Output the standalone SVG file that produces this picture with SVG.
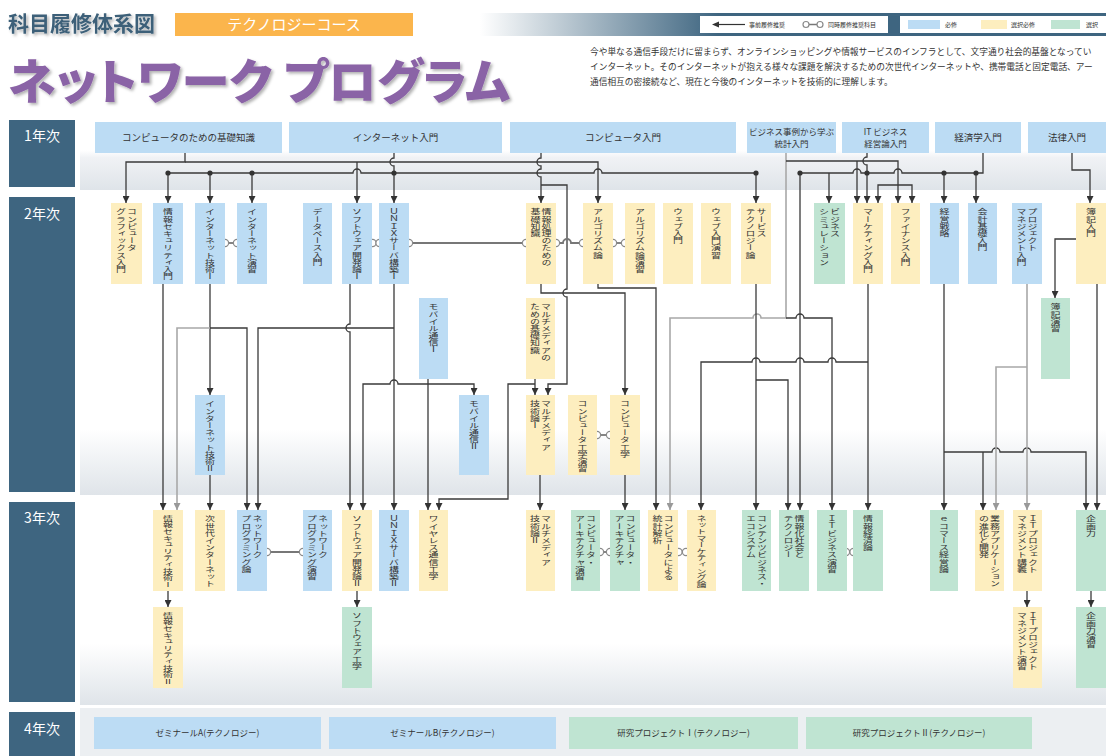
<svg xmlns="http://www.w3.org/2000/svg" width="1106" height="756" viewBox="0 0 1106 756">
<defs>
<style>
.b{fill:#bcdcf4}.y{fill:#fdeebf}.g{fill:#bfe4d2}
.vt{font-family:'Noto Sans CJK JP','Noto Sans CJK SC',sans-serif;font-size:10px;fill:#333;writing-mode:vertical-rl}
.ht{font-family:'Noto Sans CJK JP',sans-serif;font-size:9.5px;fill:#333;text-anchor:middle}
.hs{font-family:'Noto Sans CJK JP',sans-serif;font-size:8.5px;fill:#333;text-anchor:middle}
.yr{fill:#3e6580}
.yt{font-family:'Noto Sans CJK JP',sans-serif;font-size:14px;fill:#fff;text-anchor:middle}
.ln{fill:none;stroke:#3a3a3a;stroke-width:1.3}
.lg{fill:none;stroke:#a8a8a8;stroke-width:1.6}
.a{marker-end:url(#ah)}
.ag{marker-end:url(#ahg)}
.dot{fill:#333}
.cc{fill:#fff;stroke:#8a8a8a;stroke-width:1.2}
.cl{fill:none;stroke:#777;stroke-width:1.8}
.lt{font-family:'Noto Sans CJK JP',sans-serif;font-size:6px;fill:#333}
</style>
<marker id="ah" viewBox="0 0 10 10" refX="10" refY="5" markerWidth="7" markerHeight="7" markerUnits="userSpaceOnUse" orient="auto"><path d="M0,0 L10,5 L0,10 z" fill="#333"/></marker>
<marker id="ahg" viewBox="0 0 10 10" refX="10" refY="5" markerWidth="7" markerHeight="7" markerUnits="userSpaceOnUse" orient="auto"><path d="M0,0 L10,5 L0,10 z" fill="#999"/></marker>
<linearGradient id="hdr" x1="0" y1="0" x2="1" y2="0"><stop offset="0" stop-color="#ffffff"/><stop offset="0.38" stop-color="#3e6580"/><stop offset="1" stop-color="#3e6580"/></linearGradient>
<linearGradient id="band1" x1="0" y1="0" x2="0" y2="1"><stop offset="0" stop-color="#fff"/><stop offset="0.45" stop-color="#fff"/><stop offset="0.55" stop-color="#f0f2f5"/><stop offset="1" stop-color="#dfe4e9"/></linearGradient>
<linearGradient id="band2" x1="0" y1="0" x2="0" y2="1"><stop offset="0" stop-color="#fff"/><stop offset="0.78" stop-color="#fff"/><stop offset="1" stop-color="#dfe4e9"/></linearGradient>
<linearGradient id="band3" x1="0" y1="0" x2="0" y2="1"><stop offset="0" stop-color="#fff"/><stop offset="0.7" stop-color="#fff"/><stop offset="1" stop-color="#dfe4e9"/></linearGradient>
<filter id="sh" x="-5%" y="-20%" width="110%" height="150%"><feDropShadow dx="2" dy="2" stdDeviation="1.5" flood-color="#000" flood-opacity="0.3"/></filter>
</defs>

<rect width="1106" height="756" fill="#fff"/>

<!-- header -->
<g id="header">
<text x="8" y="31" font-family="'Noto Sans CJK JP',sans-serif" font-size="21" font-weight="700" fill="#3d6079" filter="url(#sh)">科目履修体系図</text>
<rect x="175" y="13" width="238" height="23" fill="#fbb54c"/>
<text x="294" y="30" font-family="'Noto Sans CJK JP',sans-serif" font-size="15" fill="#fff" text-anchor="middle">テクノロジーコース</text>
<rect x="480" y="13" width="626" height="23" fill="url(#hdr)"/>
<rect x="700" y="16" width="188" height="17" fill="#fff"/>
<rect x="900" y="16" width="206" height="17" fill="#fff"/>
<line x1="718" y1="24.5" x2="745" y2="24.5" stroke="#333" stroke-width="1.2"/>
<path d="M712,24.5 L719,21.5 L719,27.5 z" fill="#333"/>
<text class="lt" x="749" y="27">事前履修推奨</text>
<line x1="806" y1="24.5" x2="820" y2="24.5" stroke="#777" stroke-width="1.5"/>
<circle class="cc" cx="806" cy="24.5" r="3"/><circle class="cc" cx="820" cy="24.5" r="3"/>
<text class="lt" x="828" y="27">同時履修推奨科目</text>
<rect x="908" y="20" width="32" height="9" class="b"/>
<text class="lt" x="945" y="27">必修</text>
<rect x="981" y="20" width="26" height="9" class="y"/>
<text class="lt" x="1011" y="27">選択必修</text>
<rect x="1051" y="20" width="29" height="9" class="g"/>
<text class="lt" x="1086" y="27">選択</text>
<text x="8" y="99" font-family="'Noto Sans CJK JP',sans-serif" font-size="48" font-weight="900" fill="#8a63a6" filter="url(#sh)" style="font-feature-settings:'palt'" textLength="502" lengthAdjust="spacingAndGlyphs">ネットワーク プログラム</text>
<g font-family="'Noto Sans CJK JP',sans-serif" font-size="8.7" fill="#333">
<text x="590" y="55">今や単なる通信手段だけに留まらず、オンラインショッピングや情報サービスのインフラとして、文字通り社会的基盤となってい</text>
<text x="590" y="70">インターネット。そのインターネットが抱える様々な課題を解決するための次世代インターネットや、携帯電話と固定電話、アー</text>
<text x="590" y="85">通信相互の密接続など、現在と今後のインターネットを技術的に理解します。</text>
</g>
</g>

<!-- bands and year labels -->
<g id="rows">
<rect x="80" y="118" width="1026" height="72" fill="url(#band1)"/>
<rect x="80" y="195" width="1026" height="300" fill="url(#band2)"/>
<rect x="80" y="500" width="1026" height="205" fill="url(#band3)"/>
<rect x="80" y="708" width="1026" height="48" fill="#eceff2"/>
<rect class="yr" x="9" y="120" width="66" height="67"/><text class="yt" x="42" y="141">1年次</text>
<rect class="yr" x="9" y="197" width="66" height="295"/><text class="yt" x="42" y="219">2年次</text>
<rect class="yr" x="9" y="502" width="66" height="200"/><text class="yt" x="42" y="523">3年次</text>
<rect class="yr" x="9" y="712" width="66" height="44"/><text class="yt" x="42" y="734">4年次</text>
</g>

<!-- connectors -->
<g id="connectors">
<path class="ln a" d="M185,153 V162 H126 V203"/>
<path class="ln a" d="M185,162 H598 V203"/>
<path class="ln a" d="M357,162 V203"/>
<path class="ln a" d="M394,153 V158 a4,4 0 0 0 0,8 V203"/>
<path class="ln a" d="M168,173 H353 a4,4 0 0 1 8,0 H594 a4,4 0 0 1 8,0 H756 V203"/>
<path class="ln a" d="M168,173 V203"/>
<path class="ln a" d="M210,173 V203"/>
<path class="ln a" d="M252,173 V203"/>
<path class="ln a" d="M541,153 V158 a4,4 0 0 0 0,8 V169 a4,4 0 0 0 0,8 V203"/>
<path class="ln a" d="M541,185 H567 V289 a4,4 0 0 0 0,8 V384 H548 V395"/>
<path class="lg ag" d="M786,153 V318 H761 a4,4 0 0 0 -8,0 H670 V510"/>
<path class="ln a" d="M786,318 H796 a4,4 0 0 1 8,0 H832 V510"/>
<path class="ln a" d="M786,161 H898 V203"/>
<path class="ln a" d="M857,161 V203"/>
<path class="ln a" d="M867,153 V157 a4,4 0 0 0 0,8 V203"/>
<path class="ln a" d="M983,153 V173 H902 a4,4 0 0 0 -8,0 H861 a4,4 0 0 0 -8,0 H800 V510"/>
<path class="ln a" d="M829,173 V203"/>
<path class="ln a" d="M944,173 V203"/>
<path class="ln a" d="M976,173 V203"/>
<path class="ln a" d="M898,185 H878 V203"/>
<path class="ln a" d="M898,185 H912 V203"/>
<path class="ln a" d="M1072,153 V170 H1090 V203"/>
<path class="ln a" d="M1076,239 H1055 V298"/>
<path class="ln a" d="M756,284 V510"/>
<path class="ln a" d="M756,380 H788 V510"/>
<path class="ln a" d="M598,284 V288 H656 V510"/>
<path class="ln a" d="M868,284 V510"/>
<path class="ln a" d="M868,362 H836 a4,4 0 0 0 -8,0 H804 a4,4 0 0 0 -8,0 H760 a4,4 0 0 0 -8,0 H701 V510"/>
<path class="ln a" d="M944,284 V510"/>
<path class="ln a" d="M944,452 H992 a4,4 0 0 1 8,0 H1023 a4,4 0 0 1 8,0 H1086 V510"/>
<path class="ln a" d="M983,452 V510"/>
<path class="lg ag" d="M1027,284 V510"/>
<path class="lg ag" d="M1027,367 H996 V510"/>
<path class="ln a" d="M1097,284 V510"/>
<path class="ln a" d="M163,284 V510"/>
<path class="ln a" d="M210,284 V395"/>
<path class="lg ag" d="M210,328 H177 V510"/>
<path class="ln a" d="M210,328 H247 V510"/>
<path class="ln a" d="M210,475 V510"/>
<path class="ln a" d="M394,284 V510"/>
<path class="ln a" d="M394,328 H258 V510"/>
<path class="ln a" d="M350,284 V324 a4,4 0 0 0 0,8 V510"/>
<path class="ln a" d="M428,379 V510"/>
<path class="ln a" d="M428,384 H398 a4,4 0 0 0 -8,0 H363 V510"/>
<path class="ln a" d="M428,384 H474 V395"/>
<path class="ln a" d="M535,379 V395"/>
<path class="ln a" d="M535,384 H508 V499 H439 V510"/>
<path class="ln a" d="M540,475 V510"/>
<path class="ln a" d="M541,284 V293 H625 V395"/>
<path class="ln a" d="M625,475 V510"/>
<path class="ln a" d="M168,591 V607"/>
<path class="ln a" d="M357,591 V607"/>
<path class="ln a" d="M1027,591 V607"/>
<path class="ln a" d="M1091,591 V607"/>
<circle class="dot" cx="168" cy="173" r="2.6"/><circle class="dot" cx="210" cy="173" r="2.6"/><circle class="dot" cx="252" cy="173" r="2.6"/><circle class="dot" cx="394" cy="173" r="2.6"/><circle class="dot" cx="756" cy="173" r="2.6"/>
<circle class="dot" cx="800" cy="173" r="2.6"/><circle class="dot" cx="867" cy="173" r="2.6"/><circle class="dot" cx="944" cy="173" r="2.6"/><circle class="dot" cx="976" cy="173" r="2.6"/>
<!-- co-requisite links -->
<path class="cl" d="M225,243 H237"/>
<path class="cl" d="M409,243 H526"/>
<path class="cl" d="M556,243 H563 a4,4 0 0 1 8,0 H583"/>
<path class="cl" d="M613,243 H625"/>
<path class="cl" d="M597,435 H610"/>
<path class="cl" d="M267,552 H303"/>
<path class="cl" d="M600,552 H610"/>
<circle class="cc" cx="225" cy="243" r="3.6"/><circle class="cc" cx="237" cy="243" r="3.6"/>
<circle class="cc" cx="372.5" cy="243" r="3.6"/><circle class="cc" cx="379.5" cy="243" r="3.6"/>
<circle class="cc" cx="409" cy="243" r="3.6"/><circle class="cc" cx="526" cy="243" r="3.6"/>
<circle class="cc" cx="556" cy="243" r="3.6"/><circle class="cc" cx="583" cy="243" r="3.6"/>
<circle class="cc" cx="613" cy="243" r="3.6"/><circle class="cc" cx="625" cy="243" r="3.6"/>
<circle class="cc" cx="597" cy="435" r="3.6"/><circle class="cc" cx="610" cy="435" r="3.6"/>
<circle class="cc" cx="267" cy="552" r="3.6"/><circle class="cc" cx="303" cy="552" r="3.6"/>
<circle class="cc" cx="600" cy="552" r="3.6"/><circle class="cc" cx="610" cy="552" r="3.6"/>
<circle class="cc" cx="678.5" cy="552" r="3.6"/><circle class="cc" cx="686" cy="552" r="3.6"/>
<circle class="cc" cx="846" cy="552" r="3.6"/><circle class="cc" cx="853.5" cy="552" r="3.6"/>
</g>

<!-- year 1 -->
<g id="n-kiso"><rect class="b" x="95" y="122" width="187" height="31"/><text class="ht" x="188.5" y="141">コンピュータのための基礎知識</text></g>
<g id="n-inet0"><rect class="b" x="289" y="122" width="213" height="31"/><text class="ht" x="395.5" y="141">インターネット入門</text></g>
<g id="n-comp0"><rect class="b" x="510" y="122" width="226" height="31"/><text class="ht" x="623" y="141">コンピュータ入門</text></g>
<g id="n-stat0"><rect class="b" x="747" y="122" width="89" height="31"/><text class="hs" x="791.5" y="135">ビジネス事例から学ぶ</text><text class="hs" x="791.5" y="147">統計入門</text></g>
<g id="n-itb0"><rect class="b" x="842" y="122" width="87" height="31"/><text class="hs" x="885.5" y="135">IT ビジネス</text><text class="hs" x="885.5" y="147">経営論入門</text></g>
<g id="n-econ0"><rect class="b" x="935" y="122" width="86" height="31"/><text class="ht" x="978" y="141">経済学入門</text></g>
<g id="n-law0"><rect class="b" x="1028" y="122" width="78" height="31"/><text class="ht" x="1067" y="141">法律入門</text></g>

<!-- year 2 -->
<g id="n-cg"><rect class="y" x="111" y="203" width="31" height="81"/><g transform="translate(126.5,208) scale(1,0.72)"><text class="vt" x="5.5" y="0">コンピュータ</text><text class="vt" x="-5.5" y="0">グラフィックス入門</text></g></g>
<g id="n-sec1"><rect class="b" x="153" y="203" width="30" height="81"/><g transform="translate(168,208) scale(1,0.72)"><text class="vt" x="0" y="0">情報セキュリティ入門</text></g></g>
<g id="n-inet1"><rect class="b" x="195" y="203" width="30" height="81"/><g transform="translate(210,208) scale(1,0.72)"><text class="vt" x="0" y="0">インターネット技術Ⅰ</text></g></g>
<g id="n-inetp"><rect class="b" x="237" y="203" width="30" height="81"/><g transform="translate(252,208) scale(1,0.72)"><text class="vt" x="0" y="0">インターネット演習</text></g></g>
<g id="n-db"><rect class="b" x="303" y="203" width="29" height="81"/><g transform="translate(317.5,208) scale(1,0.72)"><text class="vt" x="0" y="0">データベース入門</text></g></g>
<g id="n-sw1"><rect class="b" x="342" y="203" width="30" height="81"/><g transform="translate(357,208) scale(1,0.72)"><text class="vt" x="0" y="0">ソフトウェア開発論Ⅰ</text></g></g>
<g id="n-unix1"><rect class="b" x="379" y="203" width="30" height="81"/><g transform="translate(394,208) scale(1,0.72)"><text class="vt" x="0" y="0">ＵＮＩＸサーバ構築Ⅰ</text></g></g>
<g id="n-info"><rect class="y" x="526" y="203" width="30" height="81"/><g transform="translate(541,208) scale(1,0.72)"><text class="vt" x="5.5" y="0">情報処理のための</text><text class="vt" x="-5.5" y="0">基礎知識</text></g></g>
<g id="n-alg"><rect class="y" x="583" y="203" width="30" height="81"/><g transform="translate(598,208) scale(1,0.72)"><text class="vt" x="0" y="0">アルゴリズム論</text></g></g>
<g id="n-algp"><rect class="y" x="625" y="203" width="30" height="81"/><g transform="translate(640,208) scale(1,0.72)"><text class="vt" x="0" y="0">アルゴリズム論演習</text></g></g>
<g id="n-web"><rect class="y" x="663" y="203" width="30" height="81"/><g transform="translate(678,208) scale(1,0.72)"><text class="vt" x="0" y="0">ウェブ入門</text></g></g>
<g id="n-webp"><rect class="y" x="701" y="203" width="30" height="81"/><g transform="translate(716,208) scale(1,0.72)"><text class="vt" x="0" y="0">ウェブ入門演習</text></g></g>
<g id="n-svc"><rect class="y" x="741" y="203" width="30" height="81"/><g transform="translate(756,208) scale(1,0.72)"><text class="vt" x="5.5" y="0">サービス</text><text class="vt" x="-5.5" y="0">テクノロジー論</text></g></g>
<g id="n-bsim"><rect class="g" x="814" y="203" width="31" height="81"/><g transform="translate(829.5,208) scale(1,0.72)"><text class="vt" x="5.5" y="0">ビジネス</text><text class="vt" x="-5.5" y="0">シミュレーション</text></g></g>
<g id="n-mkt"><rect class="y" x="853" y="203" width="30" height="81"/><g transform="translate(868,208) scale(1,0.72)"><text class="vt" x="0" y="0">マーケティング入門</text></g></g>
<g id="n-fin"><rect class="y" x="891" y="203" width="29" height="81"/><g transform="translate(905.5,208) scale(1,0.72)"><text class="vt" x="0" y="0">ファイナンス入門</text></g></g>
<g id="n-strat"><rect class="b" x="930" y="203" width="29" height="81"/><g transform="translate(944.5,208) scale(1,0.72)"><text class="vt" x="0" y="0">経営戦略</text></g></g>
<g id="n-acc"><rect class="b" x="968" y="203" width="29" height="81"/><g transform="translate(982.5,208) scale(1,0.72)"><text class="vt" x="0" y="0">会計基礎入門</text></g></g>
<g id="n-pm"><rect class="b" x="1012" y="203" width="30" height="81"/><g transform="translate(1027,208) scale(1,0.72)"><text class="vt" x="5.5" y="0">プロジェクト</text><text class="vt" x="-5.5" y="0">マネジメント入門</text></g></g>
<g id="n-boki"><rect class="y" x="1076" y="203" width="30" height="81"/><g transform="translate(1091,208) scale(1,0.72)"><text class="vt" x="0" y="0">簿記入門</text></g></g>
<g id="n-mob1"><rect class="b" x="419" y="298" width="29" height="81"/><g transform="translate(433.5,303) scale(1,0.72)"><text class="vt" x="0" y="0">モバイル通信Ⅰ</text></g></g>
<g id="n-mm0"><rect class="y" x="526" y="298" width="29" height="81"/><g transform="translate(540.5,303) scale(1,0.72)"><text class="vt" x="5.5" y="0">マルチメディアの</text><text class="vt" x="-5.5" y="0">ための基礎知識</text></g></g>
<g id="n-bokip"><rect class="g" x="1041" y="298" width="29" height="81"/><g transform="translate(1055.5,303) scale(1,0.72)"><text class="vt" x="0" y="0">簿記演習</text></g></g>
<g id="n-inet2"><rect class="b" x="195" y="395" width="30" height="80"/><g transform="translate(210,400) scale(1,0.72)"><text class="vt" x="0" y="0">インターネット技術Ⅱ</text></g></g>
<g id="n-mob2"><rect class="b" x="459" y="395" width="30" height="80"/><g transform="translate(474,400) scale(1,0.72)"><text class="vt" x="0" y="0">モバイル通信Ⅱ</text></g></g>
<g id="n-mm1"><rect class="y" x="526" y="395" width="29" height="80"/><g transform="translate(540.5,400) scale(1,0.72)"><text class="vt" x="5.5" y="0">マルチメディア</text><text class="vt" x="-5.5" y="0">技術論Ⅰ</text></g></g>
<g id="n-cep"><rect class="y" x="568" y="395" width="29" height="80"/><g transform="translate(582.5,400) scale(1,0.72)"><text class="vt" x="0" y="0">コンピュータ工学演習</text></g></g>
<g id="n-ce"><rect class="y" x="610" y="395" width="30" height="80"/><g transform="translate(625,400) scale(1,0.72)"><text class="vt" x="0" y="0">コンピュータ工学</text></g></g>

<!-- year 3 -->
<g id="n-sec2"><rect class="y" x="153" y="510" width="30" height="81"/><g transform="translate(168,515) scale(1,0.66)"><text class="vt" x="0" y="0">情報セキュリティ技術Ⅰ</text></g></g>
<g id="n-ngi"><rect class="y" x="195" y="510" width="30" height="81"/><g transform="translate(210,515) scale(1,0.72)"><text class="vt" x="0" y="0">次世代インターネット</text></g></g>
<g id="n-npl"><rect class="b" x="237" y="510" width="30" height="81"/><g transform="translate(252,515) scale(1,0.72)"><text class="vt" x="5.5" y="0">ネットワーク</text><text class="vt" x="-5.5" y="0">プログラミング論</text></g></g>
<g id="n-npp"><rect class="b" x="303" y="510" width="29" height="81"/><g transform="translate(317.5,515) scale(1,0.72)"><text class="vt" x="5.5" y="0">ネットワーク</text><text class="vt" x="-5.5" y="0">プログラミング演習</text></g></g>
<g id="n-sw2"><rect class="y" x="342" y="510" width="30" height="81"/><g transform="translate(357,515) scale(1,0.72)"><text class="vt" x="0" y="0">ソフトウェア開発論Ⅱ</text></g></g>
<g id="n-unix2"><rect class="b" x="379" y="510" width="30" height="81"/><g transform="translate(394,515) scale(1,0.72)"><text class="vt" x="0" y="0">ＵＮＩＸサーバ構築Ⅱ</text></g></g>
<g id="n-wl"><rect class="y" x="419" y="510" width="29" height="81"/><g transform="translate(433.5,515) scale(1,0.72)"><text class="vt" x="0" y="0">ワイヤレス通信工学</text></g></g>
<g id="n-mm2"><rect class="y" x="526" y="510" width="29" height="81"/><g transform="translate(540.5,515) scale(1,0.72)"><text class="vt" x="5.5" y="0">マルチメディア</text><text class="vt" x="-5.5" y="0">技術論Ⅱ</text></g></g>
<g id="n-cap"><rect class="g" x="571" y="510" width="29" height="81"/><g transform="translate(585.5,515) scale(1,0.72)"><text class="vt" x="5.5" y="0">コンピュータ・</text><text class="vt" x="-5.5" y="0">アーキテクチャ演習</text></g></g>
<g id="n-ca"><rect class="g" x="610" y="510" width="30" height="81"/><g transform="translate(625,515) scale(1,0.72)"><text class="vt" x="5.5" y="0">コンピュータ・</text><text class="vt" x="-5.5" y="0">アーキテクチャ</text></g></g>
<g id="n-stat"><rect class="y" x="648" y="510" width="30" height="81"/><g transform="translate(663,515) scale(1,0.72)"><text class="vt" x="5.5" y="0">コンピュータによる</text><text class="vt" x="-5.5" y="0">統計解析</text></g></g>
<g id="n-nmkt"><rect class="y" x="687" y="510" width="29" height="81"/><g transform="translate(701.5,515) scale(1,0.66)"><text class="vt" x="0" y="0">ネットマーケティング論</text></g></g>
<g id="n-cbe"><rect class="g" x="742" y="510" width="29" height="81"/><g transform="translate(756.5,515) scale(1,0.72)"><text class="vt" x="5.5" y="0">コンテンツビジネス・</text><text class="vt" x="-5.5" y="0">エコシステム</text></g></g>
<g id="n-ist"><rect class="g" x="779" y="510" width="30" height="81"/><g transform="translate(794,515) scale(1,0.72)"><text class="vt" x="5.5" y="0">情報化社会と</text><text class="vt" x="-5.5" y="0">テクノロジー</text></g></g>
<g id="n-itbp"><rect class="g" x="817" y="510" width="30" height="81"/><g transform="translate(832,515) scale(1,0.72)"><text class="vt" x="0" y="0">ＩＴビジネス演習</text></g></g>
<g id="n-iec"><rect class="g" x="853" y="510" width="30" height="81"/><g transform="translate(868,515) scale(1,0.72)"><text class="vt" x="0" y="0">情報経済論</text></g></g>
<g id="n-ec"><rect class="g" x="930" y="510" width="28" height="81"/><g transform="translate(944,515) scale(1,0.72)"><text class="vt" x="0" y="0">ｅコマース経営論</text></g></g>
<g id="n-bapp"><rect class="y" x="975" y="510" width="29" height="81"/><g transform="translate(989.5,515) scale(1,0.72)"><text class="vt" x="5.5" y="0">業務アプリケーション</text><text class="vt" x="-5.5" y="0">の進化と開発</text></g></g>
<g id="n-itpm"><rect class="y" x="1013" y="510" width="29" height="81"/><g transform="translate(1027.5,515) scale(1,0.72)"><text class="vt" x="5.5" y="0">ＩＴプロジェクト</text><text class="vt" x="-5.5" y="0">マネジメント講義</text></g></g>
<g id="n-plan"><rect class="g" x="1076" y="510" width="30" height="81"/><g transform="translate(1091,515) scale(1,0.72)"><text class="vt" x="0" y="0">企画力</text></g></g>
<g id="n-sec3"><rect class="y" x="153" y="607" width="30" height="81"/><g transform="translate(168,612) scale(1,0.66)"><text class="vt" x="0" y="0">情報セキュリティ技術Ⅱ</text></g></g>
<g id="n-se"><rect class="g" x="342" y="607" width="30" height="81"/><g transform="translate(357,612) scale(1,0.72)"><text class="vt" x="0" y="0">ソフトウェア工学</text></g></g>
<g id="n-itpmp"><rect class="y" x="1013" y="607" width="29" height="81"/><g transform="translate(1027.5,612) scale(1,0.72)"><text class="vt" x="5.5" y="0">ＩＴプロジェクト</text><text class="vt" x="-5.5" y="0">マネジメント演習</text></g></g>
<g id="n-planp"><rect class="g" x="1076" y="607" width="30" height="81"/><g transform="translate(1091,612) scale(1,0.72)"><text class="vt" x="0" y="0">企画力演習</text></g></g>

<!-- year 4 -->
<g id="n-semA"><rect class="b" x="94" y="717" width="227" height="32"/><text class="hs" x="207.5" y="736">ゼミナールA(テクノロジー)</text></g>
<g id="n-semB"><rect class="b" x="329" y="717" width="227" height="32"/><text class="hs" x="442.5" y="736">ゼミナールB(テクノロジー)</text></g>
<g id="n-rp1"><rect class="g" x="569" y="717" width="229" height="32"/><text class="hs" x="683.5" y="736">研究プロジェクトⅠ(テクノロジー)</text></g>
<g id="n-rp2"><rect class="g" x="806" y="717" width="226" height="32"/><text class="hs" x="919" y="736">研究プロジェクトⅡ(テクノロジー)</text></g>
</svg>
